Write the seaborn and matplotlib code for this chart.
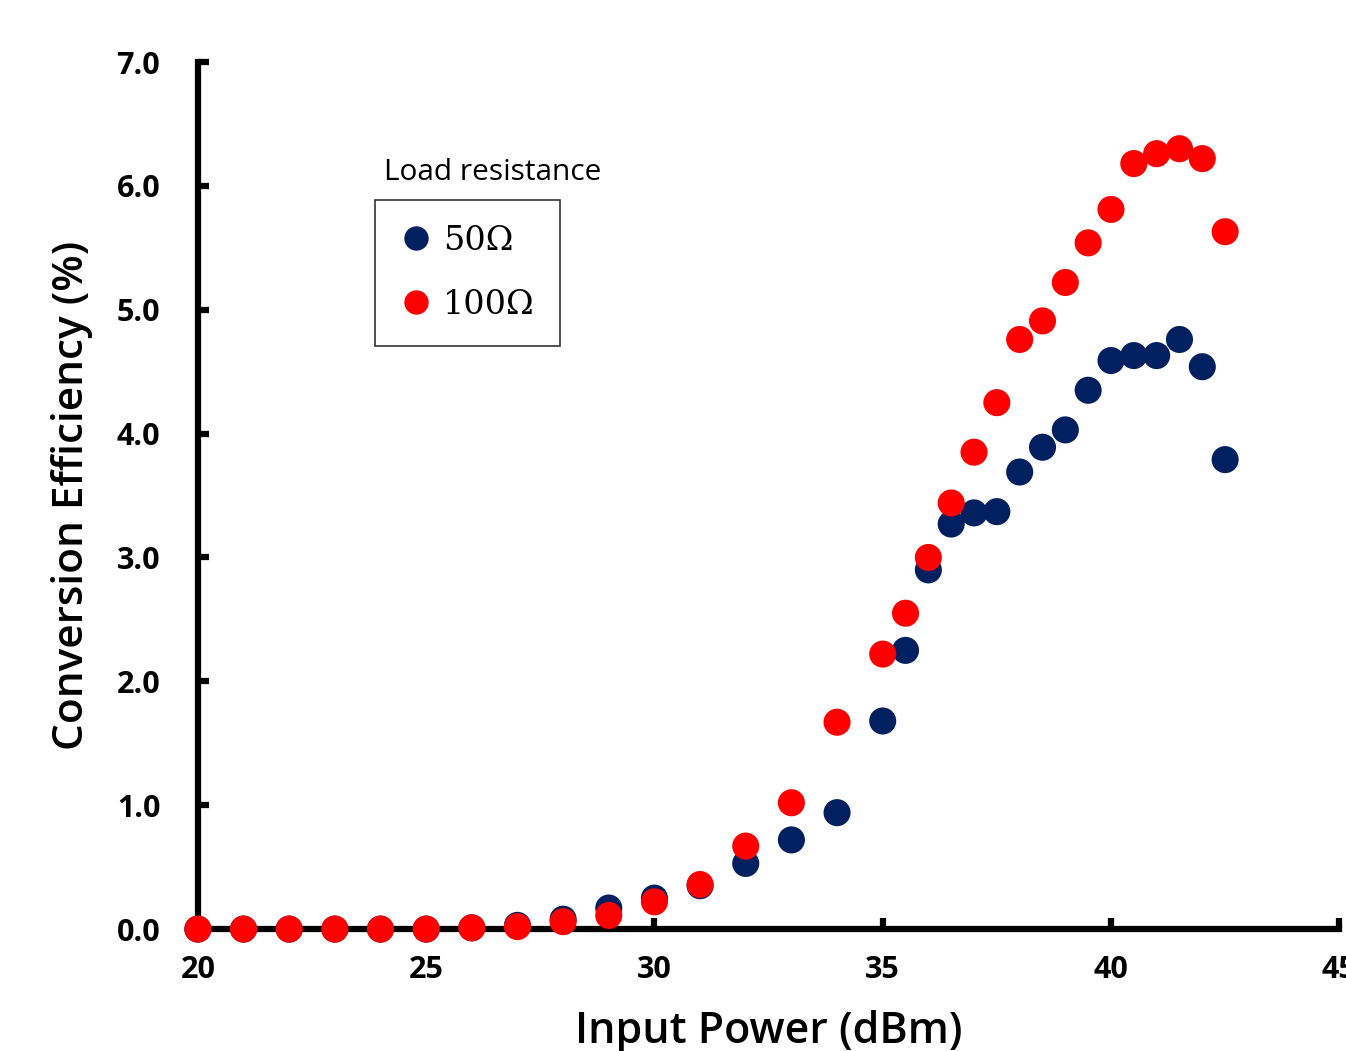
import numpy as np
import pandas as pd
import matplotlib.pyplot as plt
import seaborn as sns

# input power (dBm)
power = [20, 21, 22, 23, 24, 25, 26, 27, 28, 29, 30, 31, 32, 33, 34, 35, 35.5, 36,
         36.5, 37, 37.5, 38, 38.5, 39, 39.5, 40, 40.5, 41, 41.5, 42, 42.5]

# conversion efficiency (%)
eff_50 = [0.0, 0.0, 0.0, 0.0, 0.0, 0.0, 0.01, 0.03, 0.08, 0.17, 0.25, 0.35, 0.53, 0.72, 0.94,
          1.68, 2.25, 2.90, 3.27, 3.36, 3.37, 3.69, 3.89, 4.03, 4.35, 4.59, 4.63, 4.63, 4.76, 4.54, 3.79]
eff_100 = [0.0, 0.0, 0.0, 0.0, 0.0, 0.0, 0.01, 0.02, 0.06, 0.11, 0.22, 0.36, 0.67, 1.02, 1.67,
           2.22, 2.55, 3.00, 3.44, 3.85, 4.25, 4.76, 4.91, 5.22, 5.54, 5.81, 6.18, 6.26, 6.30, 6.22, 5.63]

labels = ["50Ω", "100Ω"]
colors = ["#002060", "#FF0000"]

df = pd.concat([
    pd.DataFrame({"power": power, "eff": eff_50, "load": labels[0]}),
    pd.DataFrame({"power": power, "eff": eff_100, "load": labels[1]}),
])

sns.set_style("white")
plt.rcParams['font.family'] = ['Open Sans', 'DejaVu Sans']
plt.rcParams['text.color'] = 'black'
plt.rcParams['axes.labelcolor'] = 'black'
plt.rcParams['xtick.color'] = 'black'
plt.rcParams['ytick.color'] = 'black'

fig = plt.figure(figsize=(13.46, 10.51), dpi=100)
ax = fig.add_axes([0.147, 0.116, 0.848, 0.825])

sns.scatterplot(data=df, x="power", y="eff", hue="load", palette=colors,
                s=380, edgecolor="none", ax=ax, clip_on=False, zorder=5)

ax.set_xlim(20, 45)
ax.set_ylim(0, 7)
ax.set_xticks([20, 25, 30, 35, 40, 45])
ax.set_yticks(np.arange(0, 7.5, 1.0))
ax.set_yticklabels([f"{v:.1f}" for v in np.arange(0, 7.5, 1.0)])

for side in ["top", "right"]:
    ax.spines[side].set_visible(False)
for side in ["left", "bottom"]:
    ax.spines[side].set_linewidth(4.5)
    ax.spines[side].set_color("black")

ax.tick_params(bottom=True, left=True, direction="in", length=8, width=4.5,
               color="black", labelcolor="black", labelsize=22)
ax.tick_params(axis="y", pad=27)
ax.tick_params(axis="x", pad=19)
for lab in ax.get_xticklabels() + ax.get_yticklabels():
    lab.set_fontweight("bold")

ax.set_xlabel("Input Power (dBm)", fontsize=31, fontweight="semibold", labelpad=18)
ax.set_ylabel("Conversion Efficiency (%)", fontsize=30.5, fontweight="semibold", labelpad=17)

ax.text(0.163, 0.873, "Load resistance", transform=ax.transAxes, fontsize=21.5, va="center")
leg = ax.legend(loc="upper left", bbox_to_anchor=(0.155, 0.841), frameon=True,
                fancybox=False, edgecolor="black", markerscale=0.9,
                handlelength=1.0, handletextpad=0.3, labelspacing=0.95,
                borderpad=0.75, borderaxespad=0,
                prop={"family": "DejaVu Serif", "size": 24})
leg.get_frame().set_linewidth(1.2)
for t in leg.get_texts():
    t.set_color("black")

fig.savefig("out.png", dpi=100)
